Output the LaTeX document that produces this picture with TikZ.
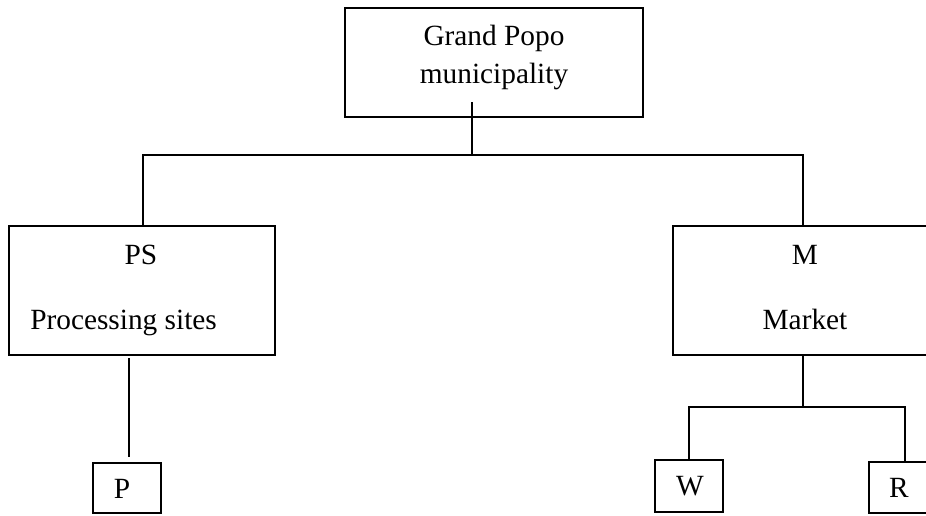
\documentclass[tikz,border=0pt]{standalone}
\usepackage{fontspec}
\setmainfont{Liberation Serif}
\begin{document}
\begin{tikzpicture}[x=0.75pt,y=-0.75pt,
  boxst/.style={draw=black, line width=1.4pt, rectangle, inner sep=0pt},
  txt/.style={inner sep=0pt, font=\fontsize{22}{26}\selectfont},
  conn/.style={draw=black, line width=1.4pt}]
\useasboundingbox (0,0) rectangle (926,515);
\clip (0,0) rectangle (926,515);
% boxes
\node[boxst, minimum width=223.5pt, minimum height=81.75pt] (top) at (494,62.5) {};
\node[boxst, minimum width=199.5pt, minimum height=96.75pt] (left) at (142,290.5) {};
\node[boxst, minimum width=199.5pt, minimum height=96.75pt] (right) at (806,290.5) {};
\node[boxst, minimum width=51pt, minimum height=37.5pt] (P) at (127,488) {};
\node[boxst, minimum width=51pt, minimum height=39pt] (W) at (689,486) {};
\node[boxst, minimum width=51pt, minimum height=38.25pt] (R) at (903,487.5) {};
% texts
\node[txt, anchor=base] (t1) at (494,45) {Grand Popo};
\node[txt, anchor=base] (t2) at (494,83) {municipality};
\node[txt, anchor=base] (tPS) at (141,264) {PS};
\node[txt, anchor=base west] (tPSl) at (30,329) {Processing sites};
\node[txt, anchor=base] (tM) at (805,264) {M};
\node[txt, anchor=base] (tMl) at (805,329) {Market};
\node[txt, anchor=base] (tP) at (122,498) {P};
\node[txt, anchor=base] (tW) at (690,495) {W};
\node[txt, anchor=base] (tR) at (899,497) {R};
% connectors
\coordinate (c0) at (472,102);
\coordinate (jl) at (143,155);
\coordinate (jr) at (803,155);
\coordinate (jm) at (472,155);
\draw[conn] (c0) -- (jm);
\draw[conn] (jl|-left.north) -- (jl) -- (jr) -- (jr|-right.north);
\coordinate (pa) at (129,358);
\coordinate (pb) at (129,457);
\draw[conn] (pa) -- (pb);
\coordinate (hb) at (803,407);
\coordinate (hr) at (905,407);
\draw[conn] (hb|-right.south) -- (hb);
\draw[conn] (W.north) -- (W.north|-hb) -- (hr) -- (hr|-R.north);
\end{tikzpicture}
\end{document}
